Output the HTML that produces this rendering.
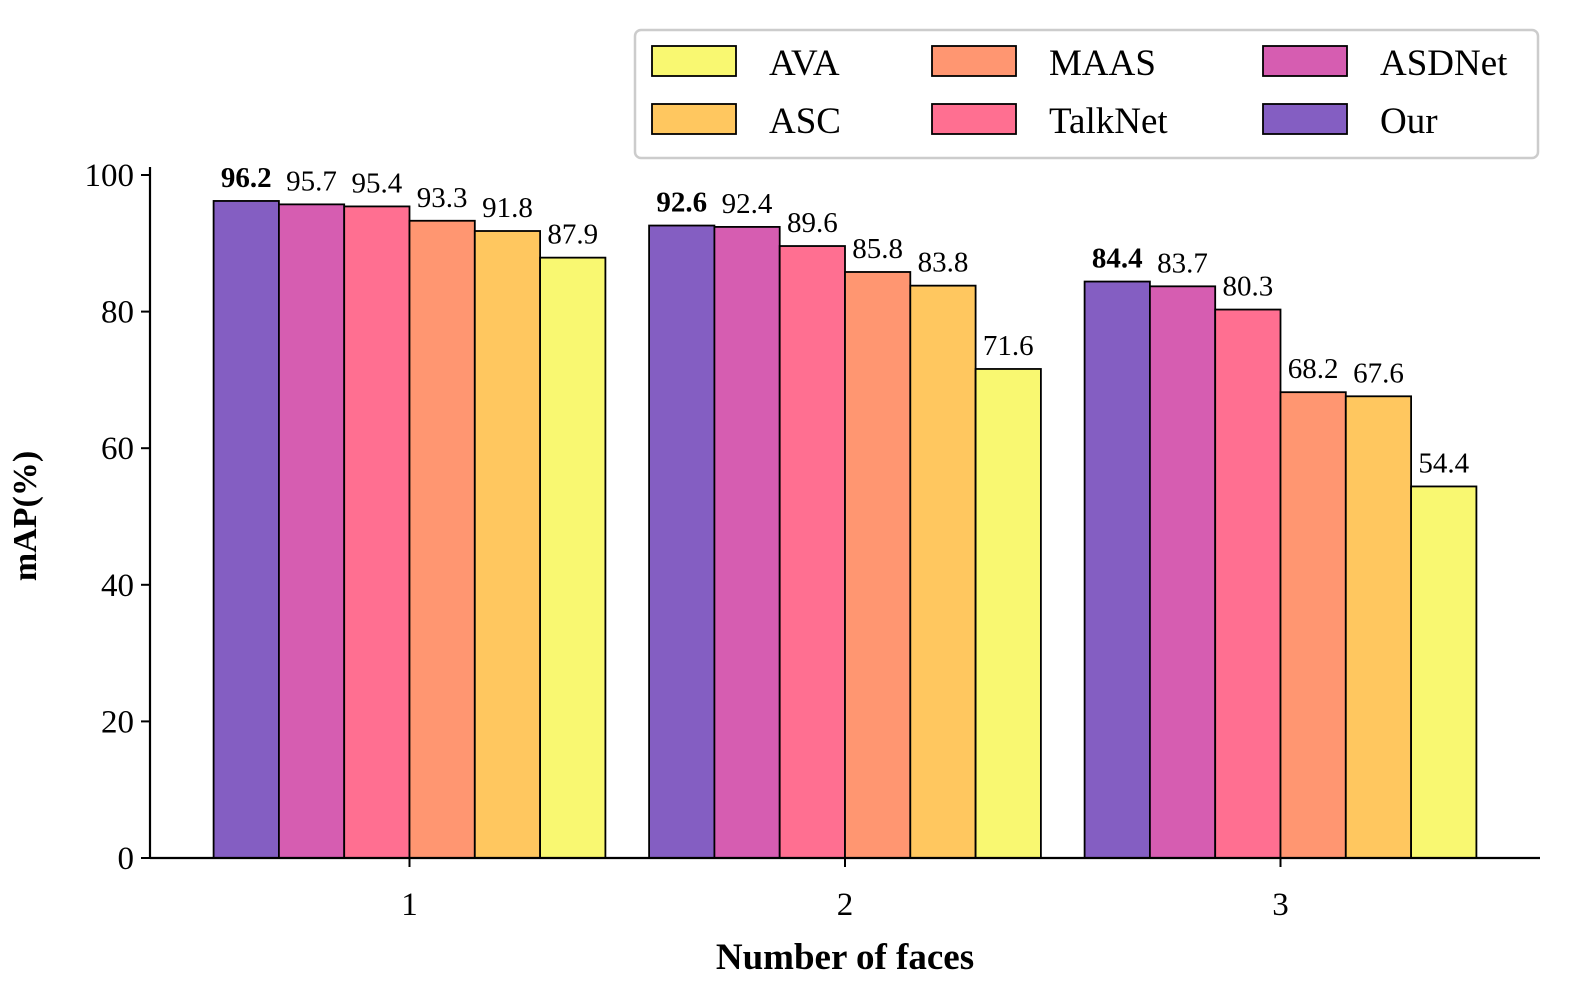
<!DOCTYPE html>
<html><head><meta charset="utf-8"><style>
body{margin:0;background:#fff;}
svg{display:block;font-family:"Liberation Serif",serif;}
</style></head><body>
<svg id="chart" width="1575" height="1000" viewBox="0 0 1575 1000"></svg>
<script>
const categories = ["1","2","3"];
const seriesNames = ["Our","ASDNet","TalkNet","MAAS","ASC","AVA"];
const ourValues = [96.2, 92.6, 84.4];
const asdnetValues = [95.7, 92.4, 83.7];
const talknetValues = [95.4, 89.6, 80.3];
const maasValues = [93.3, 85.8, 68.2];
const ascValues = [91.8, 83.8, 67.6];
const avaValues = [87.9, 71.6, 54.4];
const yTicks = [0, 20, 40, 60, 80, 100];

const allValues = [ourValues, asdnetValues, talknetValues, maasValues, ascValues, avaValues];
const colors = ["#845ec2","#d65db1","#ff6f91","#ff9671","#ffc75f","#f9f871"];
const NS = "http://www.w3.org/2000/svg";
const svg = document.getElementById("chart");
function mk(tag, attrs, parent){const e=document.createElementNS(NS,tag);for(const k in attrs)e.setAttribute(k,attrs[k]);(parent||svg).appendChild(e);return e;}
const y0 = 858, yScale = 6.83;
function yPos(v){return y0 - v*yScale;}
const groupCenters0 = 409.5, groupStep = 435.5, barW = 65.3;
function xCenter(i){return groupCenters0 + i*groupStep;}

categories.forEach((c,i)=>{
  const start = xCenter(i) - barW*3;
  allValues.forEach((vals,s)=>{
    const v = vals[i];
    const r = mk("rect",{x:start+s*barW,y:yPos(v),width:barW,height:v*yScale,fill:colors[s],stroke:"#000","stroke-width":1.8});
    
    
    const t = mk("text",{x:start+s*barW+barW/2,y:yPos(v)-14,"text-anchor":"middle","font-size":29,"font-weight":s===0?"bold":"normal"});
    t.textContent = v.toFixed(1);
    
    
  });
});
const ax = mk("line",{x1:150,y1:y0,x2:1540,y2:y0,stroke:"#000","stroke-width":2.2});


const ay = mk("line",{x1:150,y1:y0+1,x2:150,y2:167,stroke:"#000","stroke-width":2.2});


yTicks.forEach(v=>{
  mk("line",{x1:141,y1:yPos(v),x2:150,y2:yPos(v),stroke:"#000","stroke-width":2});
  const t=mk("text",{x:134,y:yPos(v)+11,"text-anchor":"end","font-size":33});
  t.textContent=v;
  
  
});
categories.forEach((c,i)=>{
  mk("line",{x1:xCenter(i),y1:y0,x2:xCenter(i),y2:y0+9,stroke:"#000","stroke-width":2});
  const t=mk("text",{x:xCenter(i),y:y0+57,"text-anchor":"middle","font-size":33});
  t.textContent=c;
  
  
});
const xt=mk("text",{x:845,y:969,"text-anchor":"middle","font-size":37,"font-weight":"bold"});
xt.textContent="Number of faces";


const yt=mk("text",{x:36,y:516,"text-anchor":"middle","font-size":34,"font-weight":"bold",transform:"rotate(-90 36 516)"});
yt.textContent="mAP(%)";


const lg = mk("g",{});


mk("rect",{x:635,y:30,width:903,height:128,rx:6,fill:"#fff",stroke:"#ccc","stroke-width":2.5},lg);
const legendOrder = [5,4,3,2,1,0];
const colX=[652,932,1263], rowY=[46,104];
legendOrder.forEach((s,k)=>{
  const col=Math.floor(k/2), row=k%2;
  mk("rect",{x:colX[col],y:rowY[row],width:84,height:30,fill:colors[s],stroke:"#000","stroke-width":1.8},lg);
  const t=mk("text",{x:colX[col]+117,y:rowY[row]+29,"font-size":37},lg);
  t.textContent = seriesNames[s];
  
  
});
</script>
</body></html>
